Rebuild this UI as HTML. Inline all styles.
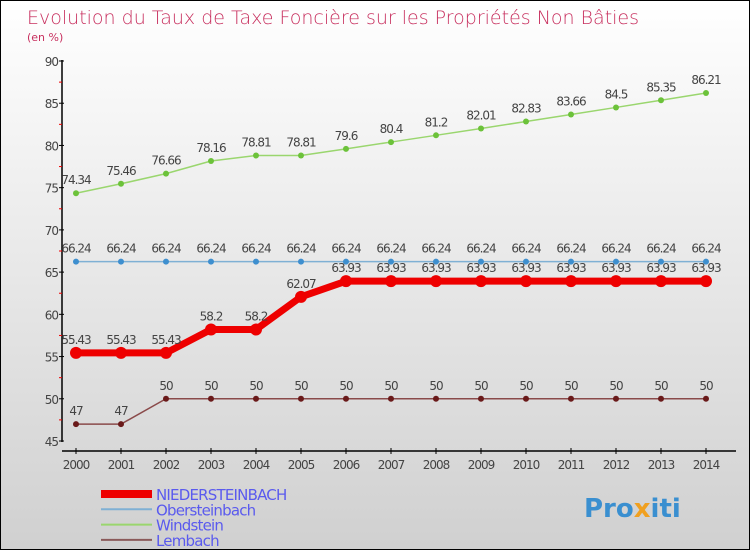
<!DOCTYPE html>
<html><head><meta charset="utf-8"><style>
body{margin:0;}
#wrap{width:750px;height:550px;position:relative;overflow:hidden;background:linear-gradient(#ffffff,#d0d0d0);border:1px solid #000;box-sizing:border-box;font-family:"DejaVu Sans","Liberation Sans",sans-serif;}
</style></head><body>
<div id="wrap">
<svg id="svg" width="750" height="550">
<text x="26" y="23" font-size="19" fill="#c8305f" font-family="DejaVu Sans, sans-serif" style="font-weight:200">Evolution du Taux de Taxe Foncière sur les Propriétés Non Bâties</text>
<text x="26" y="40" font-size="11" fill="#c8305f">(en %)</text>
<g id="axes"></g><g id="series"></g><g id="legend"></g>
<text x="583" y="516" font-size="26" font-weight="bold"><tspan fill="#3a8fd0">Pro</tspan><tspan fill="#f0a020">x</tspan><tspan fill="#3a8fd0">iti</tspan></text>
</svg>
</div>
<script>
const years=[2000,2001,2002,2003,2004,2005,2006,2007,2008,2009,2010,2011,2012,2013,2014];
const yTicks=[45,50,55,60,65,70,75,80,85,90];
const niederLabels=["55.43","55.43","55.43","58.2","58.2","62.07","63.93","63.93","63.93","63.93","63.93","63.93","63.93","63.93","63.93"];
const nieder=[55.43,55.43,55.43,58.2,58.2,62.07,63.93,63.93,63.93,63.93,63.93,63.93,63.93,63.93,63.93];
const ober=[66.24,66.24,66.24,66.24,66.24,66.24,66.24,66.24,66.24,66.24,66.24,66.24,66.24,66.24,66.24];
const wind=[74.34,75.46,76.66,78.16,78.81,78.81,79.6,80.4,81.2,82.01,82.83,83.66,84.5,85.35,86.21];
const lemb=[47,47,50,50,50,50,50,50,50,50,50,50,50,50,50];
const NS="http://www.w3.org/2000/svg";
function X(i){return 75+i*45;}
function Y(v){return 440-(v-45)*(380/45);}
function el(t,a,p){const e=document.createElementNS(NS,t);for(const k in a)e.setAttribute(k,a[k]);p.appendChild(e);return e;}
const ax=document.getElementById('axes');
let a=el('line',{x1:61,y1:59,x2:61,y2:441,stroke:'#000','stroke-width':1.5},ax);

a=el('line',{x1:61,y1:450,x2:735,y2:450,stroke:'#000','stroke-width':1.5},ax);

yTicks.forEach(v=>{el('line',{x1:58,x2:63,y1:Y(v),y2:Y(v),stroke:'#000'},ax);
 const t=el('text',{x:57,y:Y(v)+5,'text-anchor':'end','font-size':12,fill:'#444','letter-spacing':'-1'},ax);t.textContent=v;
 
 if(v<90)el('line',{x1:58,x2:61,y1:Y(v+2.5),y2:Y(v+2.5),stroke:'#e00'},ax);});
years.forEach((y,i)=>{el('line',{x1:X(i),x2:X(i),y1:447,y2:453,stroke:'#000'},ax);
 const t=el('text',{x:X(i),y:468,'text-anchor':'middle','font-size':12,fill:'#444','letter-spacing':'-1'},ax);t.textContent=y;
 });
const sg=document.getElementById('series');
function series(name,vals,labels,color,w,r,dot,lblColor){
 const g=el('g',{},sg);
 el('polyline',{points:vals.map((v,i)=>X(i)+','+Y(v)).join(' '),fill:'none',stroke:color,'stroke-width':w,'stroke-linejoin':'round'},g);
 vals.forEach((v,i)=>{const c=el('circle',{cx:X(i),cy:Y(v),r:r,fill:dot},g);
  
  const t=el('text',{x:X(i),y:Y(v)-9,'text-anchor':'middle','font-size':12,fill:'#444','letter-spacing':'-1'},g);
  t.textContent=labels?labels[i]:String(v);});
}
series('windstein',wind,null,'#9ad66e',1.5,3,'#6cc23a');
series('obersteinbach',ober,null,'#7fb0d4',1.5,3,'#3e8fcf');
series('lembach',lemb,null,'#8a4a4a',1.5,3,'#6a1a1a');
series('niedersteinbach',nieder,niederLabels,'#ee0000',7,6,'#ee0000');
const lg=document.getElementById('legend');
[['NIEDERSTEINBACH','#ee0000',8],['Obersteinbach','#7fb0d4',2],['Windstein','#9ad66e',2],['Lembach','#8a5a5a',2]].forEach((d,i)=>{
 const yy=493+i*15.3;
 const l=el('line',{x1:100,x2:151,y1:yy,y2:yy,stroke:d[1],'stroke-width':d[2]},lg);
 
 const t=el('text',{x:155,y:yy+6,'font-size':15,fill:'#5a5aee','letter-spacing':'-0.8'},lg);t.textContent=d[0];
 });
</script>
</body></html>
